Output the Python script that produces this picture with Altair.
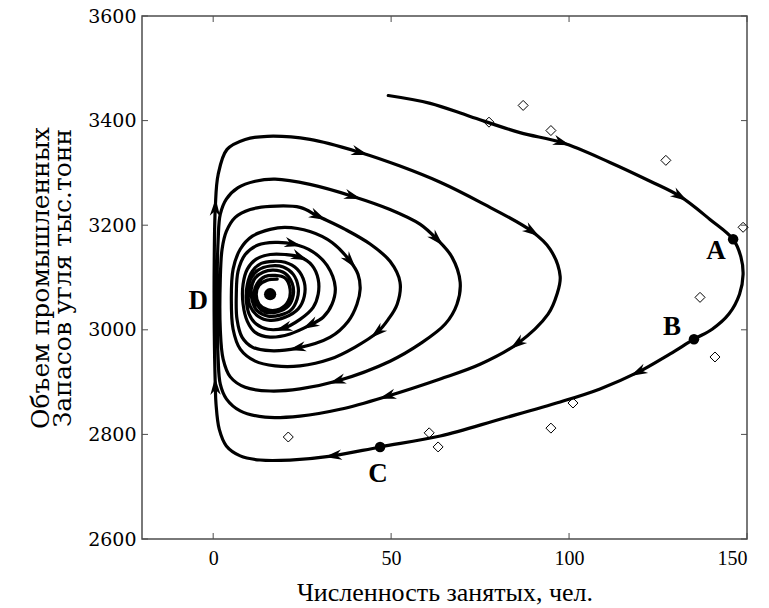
import math
import altair as alt
import pandas as pd

# ---------------- data ----------------
x_ticks = [0, 50, 100, 150]
y_ticks = [2600, 2800, 3000, 3200, 3400, 3600]

# spiral trajectory (in data units)
path_x = [49.2, 61.0, 72.2, 86.2, 98.0, 111.5, 122.8, 131.2, 139.6, 146.1,
          148.3, 148.9, 147.9, 144.9, 140.2, 135.1, 128.4, 119.4, 108.7, 97.5,
          80.6, 63.8, 46.9, 33.7, 21.6, 13.2, 7.6, 3.7, 1.7, 0.8,
          0.6, 0.3, 0.3, 0.6, 1.4, 3.9, 9.0, 15.2,
          27.2, 41.3, 52.5, 63.8, 75.0, 89.6, 94.7, 97.5, 96.6, 94.1,
          85.4, 75.0, 63.8, 48.9, 35.7, 24.4, 14.6, 7.6, 3.7, 2.0,
          1.4, 1.1, 1.4, 2.0, 3.7, 7.0, 11.8, 17.4,
          27.2, 39.3, 49.7, 58.1, 62.9, 67.1, 69.4, 68.5, 65.2, 58.1,
          49.7, 34.8, 24.4, 16.0, 9.0, 4.8, 2.8, 2.0, 2.0, 2.5,
          3.7, 6.2, 10.4, 16.0,
          24.4, 29.5, 37.1, 44.1, 49.7, 52.5, 51.7, 49.2, 46.1, 39.9,
          32.9, 24.4, 17.4, 11.8, 7.6, 5.6, 5.1, 5.6, 7.6, 11.0,
          16.0, 20.2,
          27.2, 33.4, 38.5, 40.7, 41.3, 40.4, 37.9, 32.9, 23.6, 16.0,
          11.0, 8.1, 6.7, 6.5, 7.0, 9.0, 12.6, 17.4,
          22.5, 27.8, 32.0, 34.3, 33.4, 30.9, 27.2, 21.6, 16.0, 11.8,
          9.6, 8.4, 8.4, 9.6, 12.1, 16.0,
          20.2, 24.4, 27.8, 29.5, 29.5, 28.1, 24.4, 19.7, 15.4, 12.1,
          10.1, 9.3, 9.6, 11.0, 13.5, 16.9,
          20.2, 23.6, 25.6, 25.6, 23.9, 20.2, 16.0, 12.6, 10.4, 9.8,
          10.4, 12.6, 16.0,
          19.7, 22.5, 23.9, 23.6, 21.9, 18.8, 15.4, 12.4, 11.0, 10.7,
          11.8, 14.0, 16.9,
          20.2, 22.2, 22.5, 21.1, 18.0, 14.6, 12.4, 11.5, 12.4, 14.6,
          17.4,
          20.2, 21.6, 21.1, 18.8, 15.4, 12.9, 12.1, 12.9, 15.2, 18.0]
path_y = [3448, 3433, 3408, 3377, 3358, 3320, 3284, 3255, 3211, 3173,
          3139, 3106, 3068, 3030, 3001, 2982, 2954, 2919, 2887, 2862,
          2829, 2797, 2776, 2759, 2751, 2751, 2759, 2778, 2810, 2858,
          2892, 3001, 3135, 3234, 3297, 3345, 3364, 3370,
          3364, 3339, 3313, 3282, 3244, 3188, 3154, 3102, 3068, 3030,
          2973, 2934, 2906, 2873, 2848, 2835, 2833, 2845, 2868, 2896,
          2944, 3059, 3173, 3221, 3250, 3272, 3284, 3288,
          3278, 3255, 3230, 3202, 3173, 3139, 3091, 3049, 3011, 2973,
          2940, 2902, 2887, 2883, 2890, 2910, 2944, 3001, 3097, 3154,
          3188, 3215, 3230, 3236,
          3234, 3217, 3192, 3164, 3131, 3091, 3049, 3020, 2995, 2967,
          2944, 2931, 2931, 2940, 2963, 3001, 3059, 3116, 3154, 3179,
          3192, 3196,
          3188, 3167, 3131, 3106, 3078, 3049, 3016, 2986, 2965, 2960,
          2967, 2986, 3020, 3068, 3112, 3144, 3162, 3167,
          3164, 3150, 3123, 3081, 3049, 3024, 3009, 2992, 2986, 2995,
          3016, 3049, 3087, 3116, 3135, 3144,
          3144, 3139, 3123, 3097, 3068, 3043, 3020, 3003, 3001, 3011,
          3030, 3059, 3087, 3112, 3127, 3131,
          3129, 3116, 3091, 3064, 3040, 3024, 3018, 3026, 3045, 3070,
          3095, 3114, 3122,
          3120, 3106, 3081, 3059, 3038, 3028, 3026, 3036, 3055, 3078,
          3099, 3110, 3114,
          3108, 3089, 3066, 3045, 3034, 3034, 3047, 3068, 3089, 3102,
          3104,
          3099, 3078, 3055, 3040, 3038, 3049, 3068, 3085, 3095, 3097]

# points of the path that carry an arrowhead (0-based)
arrow_at = [4, 7, 17, 23, 30, 33, 39, 43, 48, 51, 67, 70, 77, 91, 98,
            114, 120, 130, 136, 147, 153]

# observed data (diamonds)
obs_x = [77.5, 87.1, 94.9, 127.2, 148.9, 136.8, 141.0, 101.1, 94.9, 60.7, 63.2, 21.1]
obs_y = [3397, 3429, 3381, 3324, 3196, 3062, 2948, 2860, 2812, 2803, 2776, 2795]

# marked points A, B, C
pt_x = [146.1, 135.1, 46.9]
pt_y = [3173, 2982, 2776]

# equilibrium point
center_x = [16.0]
center_y = [3068]

# letter labels
lab_text = ["A", "B", "C", "D"]
lab_x = [141.3, 128.9, 46.3, -4.2]
lab_y = [3150, 3005, 2724, 3055]

x_title = "Численность занятых, чел."
y_title = ["Объем промышленных", "Запасов угля тыс.тонн"]

# ---------------- layout ----------------
W, H = 605, 523
XD = [-20, 150]
YD = [2600, 3600]
sx = W / (XD[1] - XD[0])
sy = H / (YD[1] - YD[0])
FRAME = "#4d4d4d"
SERIF = "Liberation Serif"
WIDE_SERIF = "DejaVu Serif"

path_df = pd.DataFrame({"i": list(range(len(path_x))), "x": path_x, "y": path_y})
arrow_rows = []
for k in arrow_at:
    dx = (path_x[k + 1] - path_x[k - 1]) * sx
    dy = -(path_y[k + 1] - path_y[k - 1]) * sy
    ang = math.degrees(math.atan2(dy, dx)) % 360
    arrow_rows.append({"x": path_x[k], "y": path_y[k], "angle": ang})
arrow_df = pd.DataFrame(arrow_rows)
obs_df = pd.DataFrame({"x": obs_x, "y": obs_y})
pt_df = pd.DataFrame({"x": pt_x, "y": pt_y})
center_df = pd.DataFrame({"x": center_x, "y": center_y})
lab_df = pd.DataFrame({"x": lab_x, "y": lab_y, "t": lab_text})
xt_df = pd.DataFrame({"x": x_ticks})
yt_df = pd.DataFrame({"y": y_ticks})

xs = alt.Scale(domain=XD, nice=False, zero=False)
ys = alt.Scale(domain=YD, nice=False, zero=False)

X = alt.X("x:Q", scale=xs, axis=alt.Axis(values=x_ticks, format="d", title=x_title))
Y = alt.Y("y:Q", scale=ys, axis=alt.Axis(values=y_ticks, format="d", title=y_title))

line = alt.Chart(path_df).mark_line(
    color="black", strokeWidth=3.2, interpolate="catmull-rom",
    strokeJoin="round", strokeCap="round"
).encode(x=X, y=Y, order="i:Q")

arrows = alt.Chart(arrow_df).mark_point(
    shape="M1,0L-1,-0.6L-0.4,0L-1,0.6Z", filled=True, color="black",
    size=300, opacity=1
).encode(x=X, y=Y, angle=alt.Angle("angle:Q", scale=None))

diamonds = alt.Chart(obs_df).mark_point(
    shape="diamond", filled=False, color="black", strokeWidth=1, size=100, opacity=1
).encode(x=X, y=Y)

dots = alt.Chart(pt_df).mark_circle(color="black", size=110, opacity=1).encode(x=X, y=Y)
center = alt.Chart(center_df).mark_circle(color="black", size=150, opacity=1).encode(x=X, y=Y)

labels = alt.Chart(lab_df).mark_text(
    font=SERIF, fontSize=27, fontWeight="bold", color="black",
    align="center", baseline="middle"
).encode(x=X, y=Y, text="t:N")

TL = 6
xt_bot = alt.Chart(xt_df).mark_rule(color=FRAME, strokeWidth=1).encode(
    x=X, y=alt.value(H), y2=alt.value(H - TL))
xt_top = alt.Chart(xt_df).mark_rule(color=FRAME, strokeWidth=1).encode(
    x=X, y=alt.value(0), y2=alt.value(TL))
yt_left = alt.Chart(yt_df).mark_rule(color=FRAME, strokeWidth=1).encode(
    y=Y, x=alt.value(0), x2=alt.value(TL))
yt_right = alt.Chart(yt_df).mark_rule(color=FRAME, strokeWidth=1).encode(
    y=Y, x=alt.value(W), x2=alt.value(W - TL))

chart = alt.layer(
    line, arrows, diamonds, dots, center, labels, xt_bot, xt_top, yt_left, yt_right
).properties(
    width=W, height=H,
    autosize=alt.AutoSizeParams(type="none"),
    padding={"left": 142, "top": 16, "right": 22, "bottom": 69},
    background="white"
).configure_view(
    stroke=FRAME, strokeWidth=1.5
).configure_axis(
    grid=False, ticks=False, domain=False,
    labelColor="black", titleFontWeight="normal", titleColor="black"
).configure_axisX(
    labelFont=SERIF, labelFontSize=20, labelPadding=9,
    titleFont=SERIF, titleFontSize=26, titleY=53, titleBaseline="middle"
).configure_axisY(
    labelFont=WIDE_SERIF, labelFontSize=19, labelPadding=6,
    titleFont=WIDE_SERIF, titleFontSize=25, titleLineHeight=22, titleAngle=270,
    titleX=-102, titleY=H / 2, titleAlign="center", titleBaseline="middle"
)

chart.save("out.html", embed_options={"renderer": "svg", "actions": False})
